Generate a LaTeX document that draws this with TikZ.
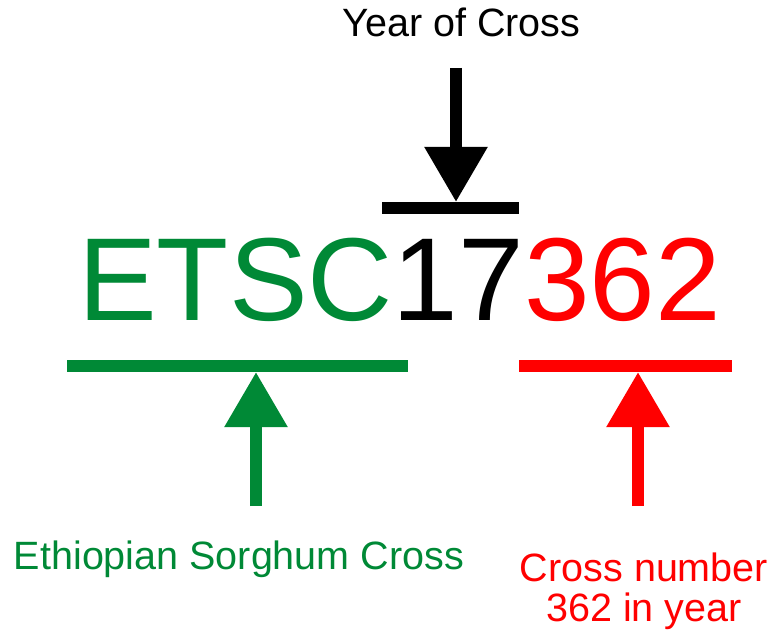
\documentclass[tikz,border=0pt]{standalone}
\usepackage{fontspec}
\setmainfont{Liberation Sans}
\usetikzlibrary{arrows.meta}
\definecolor{etsgreen}{RGB}{0,137,54}
\definecolor{etsred}{RGB}{255,0,0}
\begin{document}
\begin{tikzpicture}[x=1pt,y=-1pt,
  lbl/.style={inner sep=0pt, font=\fontsize{39.5}{40}\selectfont, anchor=base},
  bar/.style={line width=12pt},
  pointer/.style={line width=12pt, -{Triangle[width=60pt,length=55pt]}}]
\useasboundingbox (0,0) rectangle (776,636);
% texts
\node[lbl] (year) at (461.5,37) {Year of Cross};
\node[inner sep=0pt, anchor=base west, font=\fontsize{118}{120}\selectfont] (code) at (78,320)
  {{\color{etsgreen}ETSC}17{\color{etsred}362}};
\node[lbl, text=etsgreen] (eth) at (239,569) {Ethiopian Sorghum Cross};
\node[lbl, text=etsred, align=center] (num) at (644,621) {Cross number\\362 in year};
% black: year
\coordinate (yA) at (456,68);
\coordinate (yB) at (456,202);
\coordinate (ybL) at (382,208);
\coordinate (ybR) at (519,208);
\draw[bar] (ybL) -- (ybR);
\draw[pointer] (yA) -- (yB);
% green
\coordinate (gA) at (256,506);
\coordinate (gB) at (256,372);
\coordinate (gbL) at (67,365.5);
\coordinate (gbR) at (408,365.5);
\draw[bar, etsgreen] (gbL) -- (gbR);
\draw[pointer, etsgreen] (gA) -- (gB);
% red
\coordinate (rA) at (638,506);
\coordinate (rB) at (638,372);
\coordinate (rbL) at (519,365.5);
\coordinate (rbR) at (732,365.5);
\draw[bar, etsred] (rbL) -- (rbR);
\draw[pointer, etsred] (rA) -- (rB);
\end{tikzpicture}
\end{document}
